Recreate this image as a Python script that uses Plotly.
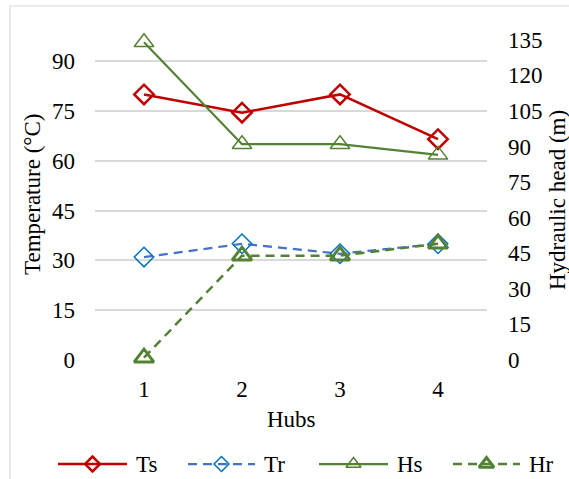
import plotly.graph_objects as go

# ---- data -------------------------------------------------------------
hubs = [1, 2, 3, 4]
hub_labels = ["1", "2", "3", "4"]
ts = [80, 74.5, 80, 66.5]      # supply temperature (°C)
tr = [31, 35, 32, 35]          # return temperature (°C)
hs = [134, 91, 91, 86.5]       # supply hydraulic head (m)
hr = [1, 44, 44, 49]           # return hydraulic head (m)
temp_ticks = [0, 15, 30, 45, 60, 75, 90]
head_ticks = [0, 15, 30, 45, 60, 75, 90, 105, 120, 135]
series_names = ["Ts", "Tr", "Hs", "Hr"]

# ---- styling ----------------------------------------------------------
W, H = 569, 479
FONT = '"Liberation Serif", "Times New Roman", serif'
FS = 23
RED = "#C00000"
BLUE_LINE = "#4472C4"
BLUE_MK = "#0070C0"
GREEN = "#548235"
GRID = "#D9D9D9"
DASH = "9px,6px"

# plot area in pixels
PL, PR, PT, PB = 95, 487, 28, 360

styles = {
    "Ts": dict(line=dict(color=RED, width=2.5),
               marker=dict(symbol="diamond-open", size=15, color=RED, line=dict(color=RED, width=2.5))),
    "Tr": dict(line=dict(color=BLUE_LINE, width=2.25, dash=DASH),
               marker=dict(symbol="diamond-open", size=15, color=BLUE_MK, line=dict(color=BLUE_MK, width=1.5))),
    "Hs": dict(line=dict(color=GREEN, width=2.25),
               marker=dict(symbol="triangle-up-open", size=17, color=GREEN, line=dict(color=GREEN, width=1.5))),
    "Hr": dict(line=dict(color=GREEN, width=2.5, dash=DASH),
               marker=dict(symbol="triangle-up-open", size=17, color=GREEN, line=dict(color=GREEN, width=3))),
}

fig = go.Figure()

for name, vals, ax in [("Ts", ts, "y"), ("Tr", tr, "y"), ("Hs", hs, "y2"), ("Hr", hr, "y2")]:
    st = styles[name]
    fig.add_trace(go.Scatter(
        x=hubs, y=vals, name=name, mode="lines+markers", yaxis=ax,
        line=st["line"], marker=st["marker"], cliponaxis=False, showlegend=False,
    ))

# ---- legend row drawn in a pixel-coordinate overlay -------------------
legend_y = 464
legend_items = [  # (line start, line end, text x)
    (58, 127, 134),
    (188, 255, 262),
    (319, 388, 395),
    (453, 520, 527),
]
legend_marker_size = {"Ts": 11.5, "Tr": 11.5, "Hs": 13, "Hr": 13}
annotations = []
for name, (x0, x1, tx) in zip(series_names, legend_items):
    st = styles[name]
    fig.add_trace(go.Scatter(
        x=[x0, x1], y=[legend_y, legend_y], mode="lines", xaxis="x3", yaxis="y3",
        line=st["line"], showlegend=False, hoverinfo="skip",
    ))
    mk = dict(st["marker"])
    mk["size"] = legend_marker_size[name]
    fig.add_trace(go.Scatter(
        x=[(x0 + x1) / 2], y=[legend_y], mode="markers", xaxis="x3", yaxis="y3",
        marker=mk, showlegend=False, hoverinfo="skip",
    ))
    annotations.append(dict(
        x=tx / W, y=1 - legend_y / H, xref="paper", yref="paper",
        text=name, showarrow=False, xanchor="left", yanchor="middle",
        font=dict(family=FONT, size=FS, color="black"),
    ))

# axis titles
annotations += [
    dict(x=291 / W, y=1 - 419 / H, xref="paper", yref="paper", text="Hubs",
         showarrow=False, xanchor="center", yanchor="middle",
         font=dict(family=FONT, size=FS, color="black")),
    dict(x=32 / W, y=1 - 195 / H, xref="paper", yref="paper", text="Temperature (°C)",
         textangle=-90, showarrow=False, xanchor="center", yanchor="middle",
         font=dict(family=FONT, size=FS, color="black")),
    dict(x=557 / W, y=1 - 200 / H, xref="paper", yref="paper", text="Hydraulic head (m)",
         textangle=-90, showarrow=False, xanchor="center", yanchor="middle",
         font=dict(family=FONT, size=FS, color="black")),
]

tickfont = dict(family=FONT, size=FS, color="black")
x_dom = [PL / W, PR / W]
y_dom = [1 - PB / H, 1 - PT / H]

fig.update_layout(
    template="none",
    width=W, height=H, autosize=False,
    margin=dict(l=0, r=0, t=0, b=0, pad=0, autoexpand=False),
    paper_bgcolor="white",
    plot_bgcolor="rgba(0,0,0,0)",
    showlegend=False,
    annotations=annotations,
    xaxis=dict(domain=x_dom, range=[0.5, 4.5], tickvals=hubs, ticktext=hub_labels,
               showgrid=False, zeroline=False, showline=False, ticks="", automargin=False,
               tickfont=tickfont, ticklabelstandoff=13, anchor="y"),
    yaxis=dict(domain=y_dom, range=[0, 100], tickvals=temp_ticks,
               showgrid=True, gridcolor=GRID, gridwidth=1.5, zeroline=False, automargin=False,
               showline=False, ticks="", tickfont=tickfont, ticklabelstandoff=19, anchor="x"),
    yaxis2=dict(range=[0, 140], tickvals=head_ticks, overlaying="y", side="right",
                showgrid=False, zeroline=False, showline=False, ticks="", automargin=False,
                tickfont=tickfont, ticklabelstandoff=20, anchor="x"),
    xaxis3=dict(domain=[0, 1], range=[0, W], visible=False, fixedrange=True, anchor="y3",
                automargin=False),
    yaxis3=dict(domain=[0, 1], range=[H, 0], visible=False, fixedrange=True, anchor="x3",
                automargin=False),
    shapes=[
        dict(type="rect", xref="paper", yref="paper",
             x0=10 / W, x1=1.2, y0=-0.2, y1=1 - 6 / H,
             line=dict(color=GRID, width=1.2), fillcolor="rgba(0,0,0,0)", layer="below"),
    ],
)

fig.write_html("out.html", config={"responsive": False})
